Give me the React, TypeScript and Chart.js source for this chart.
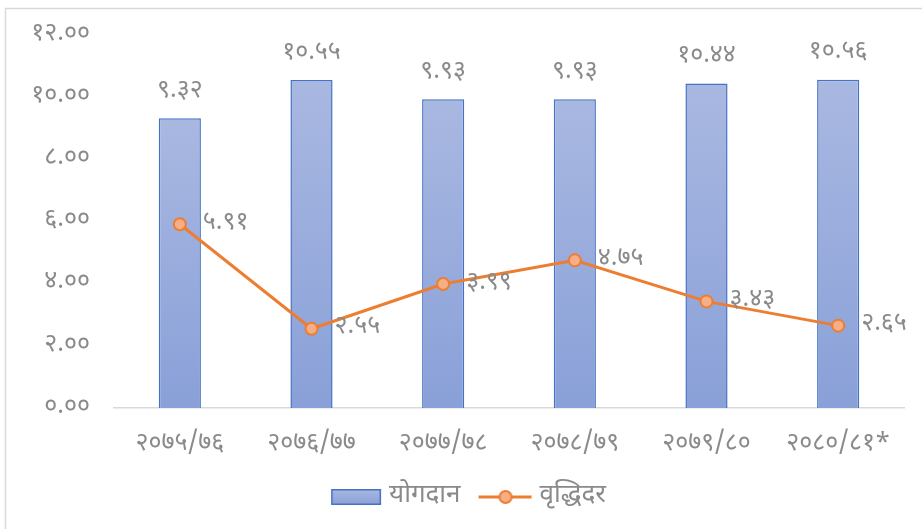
import React, { useEffect, useRef } from "react";
import { Chart, registerables } from "chart.js";

Chart.register(...registerables);

const categories = ["२०७५/७६", "२०७६/७७", "२०७७/७८", "२०७८/७९", "२०७९/८०", "२०८०/८१*"];
const contributionValues = [9.32, 10.55, 9.93, 9.93, 10.44, 10.56];
const growthValues = [5.91, 2.55, 3.99, 4.75, 3.43, 2.65];
const seriesNames = ["योगदान", "वृद्धिदर"];
const yMin = 0;
const yMax = 12;
const yStep = 2;

const DEV = ["०", "१", "२", "३", "४", "५", "६", "७", "८", "९"];
const toDev = (s: string) => s.replace(/[0-9]/g, (d) => DEV[+d]);
const fmt = (v: number) => toDev(v.toFixed(2));

const FONT = "'Noto Sans Devanagari', 'Nirmala UI', 'Noto Sans', sans-serif";
const TEXT = "#8a8a8a";
const BAR_BORDER = "#4472c4";
const LINE = "#ed7d31";
const POINT_FILL = "#f5ae85";
const FS = 25;
const LEG_P = 60; // legend pointStyleWidth
const LEG_W = LEG_P + 18; // legend image width

function makeBarLegend() {
  const c = document.createElement("canvas");
  c.width = LEG_W;
  c.height = 18;
  const g = c.getContext("2d")!;
  const x0 = LEG_W - 54;
  const gr = g.createLinearGradient(0, 1, 0, 17);
  gr.addColorStop(0, "#a9b8e1");
  gr.addColorStop(1, "#8aa0d8");
  g.fillStyle = gr;
  g.fillRect(x0 + 1, 2, 48, 14);
  g.strokeStyle = BAR_BORDER;
  g.lineWidth = 1.5;
  g.strokeRect(x0 + 0.75, 1.75, 48.5, 14.5);
  return c;
}

function makeLineLegend() {
  const c = document.createElement("canvas");
  c.width = LEG_W;
  c.height = 18;
  const g = c.getContext("2d")!;
  const x0 = LEG_W - 57;
  g.strokeStyle = LINE;
  g.lineWidth = 3;
  g.beginPath();
  g.moveTo(x0, 9);
  g.lineTo(x0 + 53, 9);
  g.stroke();
  g.beginPath();
  g.arc(x0 + 27, 9, 6, 0, Math.PI * 2);
  g.fillStyle = POINT_FILL;
  g.fill();
  g.lineWidth = 2;
  g.stroke();
  return c;
}

const labelsPlugin = {
  id: "valueLabels",
  afterDatasetsDraw(chart: any) {
    const ctx = chart.ctx;
    ctx.save();
    ctx.font = `${FS}px ${FONT}`;
    ctx.fillStyle = TEXT;
    const barMeta = chart.getDatasetMeta(0);
    barMeta.data.forEach((el: any, i: number) => {
      ctx.textAlign = "center";
      ctx.textBaseline = "middle";
      ctx.fillText(fmt(contributionValues[i]), el.x, el.y - 26);
    });
    const lineMeta = chart.getDatasetMeta(1);
    lineMeta.data.forEach((el: any, i: number) => {
      ctx.textAlign = "left";
      ctx.textBaseline = "middle";
      ctx.fillText(fmt(growthValues[i]), el.x + 23, el.y);
    });
    ctx.restore();
  },
};

const borderPlugin = {
  id: "outerBorder",
  afterDraw(chart: any) {
    const ctx = chart.ctx;
    ctx.save();
    ctx.strokeStyle = "#d9d9d9";
    ctx.lineWidth = 1.5;
    ctx.strokeRect(5.5, 8.5, 930, 540);
    ctx.restore();
  },
};

export default function App() {
  const ref = useRef<HTMLCanvasElement>(null);
  useEffect(() => {
    const barImg = makeBarLegend();
    const lineImg = makeLineLegend();
    const chart = new Chart(ref.current!, {
      type: "bar",
      data: {
        labels: categories,
        datasets: [
          {
            type: "bar",
            label: seriesNames[0],
            data: contributionValues,
            backgroundColor: (c: any) => {
              const ch = c.chart;
              const y = ch.scales?.y;
              if (!y || c.type !== "data") return "#98abdc";
              const top = y.getPixelForValue(c.parsed.y);
              const bot = y.getPixelForValue(0);
              const g = ch.ctx.createLinearGradient(0, top, 0, bot);
              g.addColorStop(0, "#a9b8e1");
              g.addColorStop(1, "#89a0d8");
              return g;
            },
            borderColor: BAR_BORDER,
            borderWidth: 1.5,
            barPercentage: 0.32,
            categoryPercentage: 1,
            order: 2,
          } as any,
          {
            type: "line",
            label: seriesNames[1],
            data: growthValues,
            borderColor: LINE,
            borderWidth: 3,
            pointRadius: 6,
            pointBorderWidth: 2,
            pointBackgroundColor: POINT_FILL,
            pointBorderColor: LINE,
            tension: 0,
            order: 1,
          } as any,
        ],
      },
      options: {
        animation: false,
        responsive: false,
        layout: { padding: { top: 35, right: 0, left: 0, bottom: 9 } },
        plugins: {
          tooltip: { enabled: false },
          legend: {
            position: "bottom",
            labels: {
              usePointStyle: true,
              pointStyleWidth: LEG_P,
              boxHeight: 16,
              padding: 6,
              color: TEXT,
              font: { size: 26, family: FONT },
              generateLabels: () => [
                { text: seriesNames[0], pointStyle: barImg, fontColor: TEXT, datasetIndex: 0, lineWidth: 0 } as any,
                { text: seriesNames[1], pointStyle: lineImg, fontColor: TEXT, datasetIndex: 1, lineWidth: 0 } as any,
              ],
            },
          },
        },
        scales: {
          x: {
            grid: { display: false },
            border: { color: "#d9d9d9", width: 1.5 },
            ticks: { color: TEXT, font: { size: FS, family: FONT }, padding: 14, maxRotation: 0 },
            afterFit: (s: any) => {
              s.height = 70;
            },
          },
          y: {
            min: yMin,
            max: yMax,
            grid: { display: false },
            border: { display: false },
            ticks: {
              stepSize: yStep,
              color: TEXT,
              font: { size: FS, family: FONT },
              padding: 16,
              callback: (v: any) => fmt(Number(v)),
            },
            afterFit: (s: any) => {
              s.width = 114;
            },
          },
          spacer: {
            type: "linear",
            position: "right",
            display: true,
            grid: { display: false },
            border: { display: false },
            ticks: { display: false },
            afterFit: (s: any) => {
              s.width = 18;
            },
          },
        },
      } as any,
      plugins: [labelsPlugin, borderPlugin],
    });
    return () => chart.destroy();
  }, []);
  return (
    <div style={{ position: "fixed", left: 0, top: 0, width: 922, height: 529, background: "#fff" }}>
      <canvas ref={ref} width={922} height={529} style={{ display: "block" }} />
    </div>
  );
}
